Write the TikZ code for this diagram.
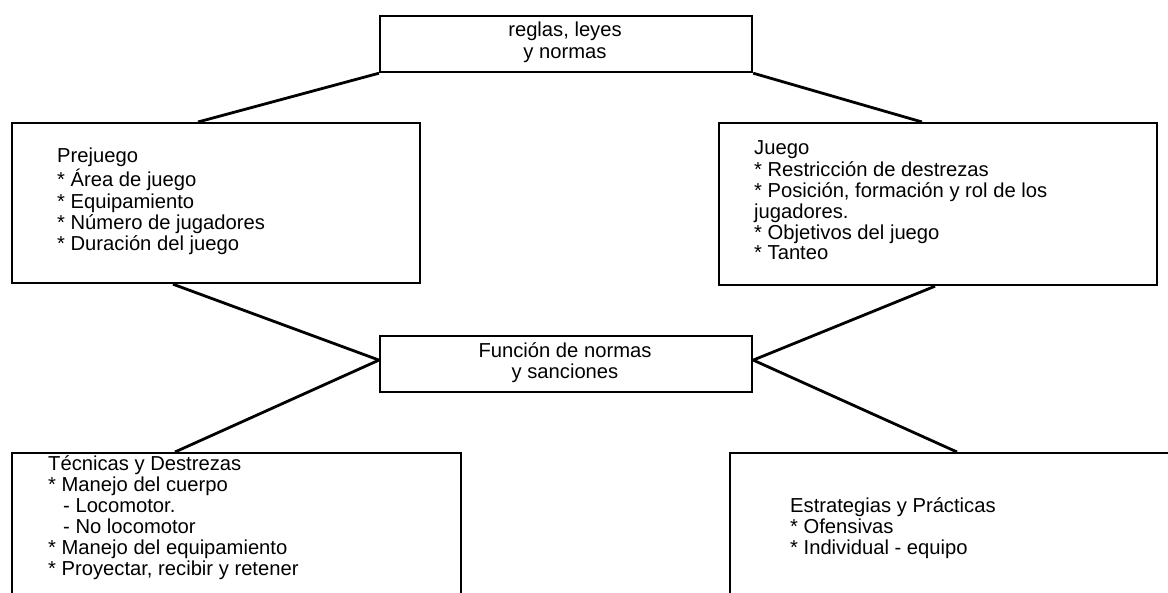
\documentclass[tikz,border=0pt]{standalone}
\usepackage{fontspec}
\setmainfont{Liberation Sans}
% a row break that never takes a following star as its option
\newcommand{\nl}{\\\relax}
\begin{document}
\begin{tikzpicture}[x=1pt,y=-1pt,
  box/.style={draw, line width=2.2pt, rectangle, inner sep=0pt, anchor=north west},
  link/.style={line width=2.8pt},
  txt/.style={inner sep=0pt},
]
\useasboundingbox (0,0) rectangle (1168,593);

% frames
\node[box, minimum width=372pt, minimum height=56pt]  (reg) at (379,15)  {};
\node[box, minimum width=408pt, minimum height=160pt] (pre) at (11,122)  {};
\node[box, minimum width=438pt, minimum height=162pt] (jue) at (718,122) {};
\node[box, minimum width=372pt, minimum height=56pt]  (fun) at (379,335) {};
\node[box, minimum width=449pt, minimum height=200pt] (tec) at (11,452)  {};
\node[box, minimum width=460pt, minimum height=200pt] (est) at (729,452) {};

% texts
\node[txt, anchor=base, font=\fontsize{20.2}{22}\selectfont] (regT) at (565,37)
  {\begin{tabular}[t]{@{}c@{}}reglas, leyes\nl y normas\end{tabular}};
\node[txt, anchor=base west, font=\fontsize{20.2}{21.2}\selectfont] (preT) at (57,163)
  {\begin{tabular}[t]{@{}l@{}}Prejuego\nl * Área de juego\nl * Equipamiento\nl
   * Número de jugadores\nl * Duración del juego\end{tabular}};
\node[txt, anchor=base west, font=\fontsize{20.2}{20.9}\selectfont] (jueT) at (754,155)
  {\begin{tabular}[t]{@{}l@{}}Juego\nl * Restricción de destrezas\nl
   * Posición, formación y rol de los\nl jugadores.\nl * Objetivos del juego\nl
   * Tanteo\end{tabular}};
\node[txt, anchor=base, font=\fontsize{20.2}{20}\selectfont] (funT) at (565,358)
  {\begin{tabular}[t]{@{}c@{}}Función de normas\nl y sanciones\end{tabular}};
\node[txt, anchor=base west, font=\fontsize{20.2}{20.8}\selectfont] (tecT) at (48,471)
  {\begin{tabular}[t]{@{}l@{}}Técnicas y Destrezas\nl * Manejo del cuerpo\nl
   \hspace*{15pt}- Locomotor.\nl \hspace*{15pt}- No locomotor\nl
   * Manejo del equipamiento\nl * Proyectar, recibir y retener\end{tabular}};
\node[txt, anchor=base west, font=\fontsize{20.2}{20.5}\selectfont] (estT) at (790,513)
  {\begin{tabular}[t]{@{}l@{}}Estrategias y Prácticas\nl * Ofensivas\nl
   * Individual - equipo\end{tabular}};

% connectors
\draw[link] (reg.south west) -- ([xshift=187pt]pre.north west);
\draw[link] (reg.south east) -- ([xshift=204pt]jue.north west);
\draw[link] ([xshift=162pt]pre.south west) -- ([yshift=4pt]fun.west);
\draw[link] ([xshift=217pt]jue.south west) -- ([yshift=4pt]fun.east);
\draw[link] ([yshift=4pt]fun.west) -- ([xshift=164pt]tec.north west);
\draw[link] ([yshift=4pt]fun.east) -- ([xshift=228pt]est.north west);
\end{tikzpicture}
\end{document}
